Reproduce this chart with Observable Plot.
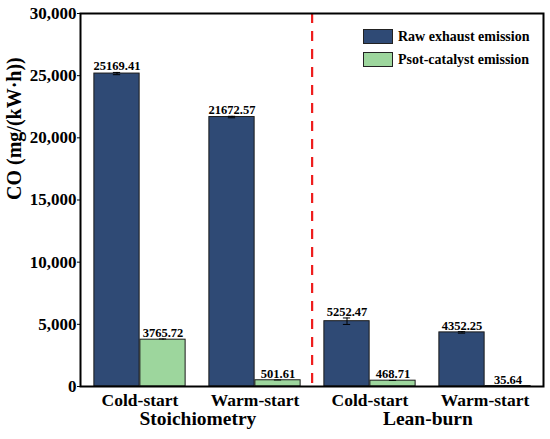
<!DOCTYPE html>
<html>
<head>
<meta charset="utf-8">
<script src="https://cdn.jsdelivr.net/npm/d3@7"></script>
<script src="https://cdn.jsdelivr.net/npm/@observablehq/plot@0.6"></script>
<style>
  html, body { margin: 0; padding: 0; background: #fff; }
  #wrap { position: relative; width: 550px; height: 439px; font-family: "Liberation Serif", Tinos, "Times New Roman", Times, "DejaVu Serif", serif; }
  #wrap svg, #wrap svg text { font-family: "Liberation Serif", Tinos, "Times New Roman", Times, "DejaVu Serif", serif !important; font-weight: bold; }
  .legend { position: absolute; left: 363px; top: 29px; font-size: 14px; font-weight: bold; color: #000; }
  .row { display: flex; align-items: center; height: 15px; margin-bottom: 8px; }
  .sw { width: 28px; height: 13px; border: 1px solid #222; margin-right: 5px; }
</style>
</head>
<body>
<div id="wrap"></div>
<script>
const conditions = ["Stoichiometry", "Lean-burn"];
const starts = ["Cold-start", "Warm-start"];
const series = ["Raw exhaust emission", "Psot-catalyst emission"];
const colors = ["#2f4a75", "#9dd69d"];
const rawValues = [25169.41, 21672.57, 5252.47, 4352.25];
const postValues = [3765.72, 501.61, 468.71, 35.64];
const rawErrors = [90, 60, 260, 60];
const postErrors = [60, 20, 25, 5];
const yTicks = [0, 5000, 10000, 15000, 20000, 25000, 30000];
const yLabel = "CO (mg/(kW·h))";

const groups = [];
conditions.forEach(c => starts.forEach(s => groups.push(c + "|" + s)));

const rows = [];
groups.forEach((g, i) => {
  rows.push({group: g, series: series[0], value: rawValues[i], err: rawErrors[i], side: -1});
  rows.push({group: g, series: series[1], value: postValues[i], err: postErrors[i], side: 1});
});
const rawRows = rows.filter(d => d.side < 0);
const postRows = rows.filter(d => d.side > 0);

const width = 550, height = 439;
const mL = 80, mR = 7, mT = 13, mB = 53;
const bw = (width - mL - mR) / groups.length;
const barW = 46;
const outer = bw / 2 - barW;
const off = barW / 2;
const capHalf = 4;

const font = "'Liberation Serif', Tinos, 'Times New Roman', Times, 'DejaVu Serif', serif";
const barStyle = {stroke: "#1a1a1a", strokeWidth: 1};

const plot = Plot.plot({
  width, height,
  marginLeft: mL, marginRight: mR, marginTop: mT, marginBottom: mB,
  style: {fontFamily: font, background: "#fff", color: "#000", overflow: "visible"},
  x: {domain: groups, padding: 0, label: null},
  y: {domain: [0, 30000], label: null},
  marks: [
    Plot.barY(rawRows, {x: "group", y: "value", fill: colors[0], insetLeft: outer, insetRight: bw - outer - barW, ...barStyle}),
    Plot.barY(postRows, {x: "group", y: "value", fill: colors[1], insetLeft: bw - outer - barW, insetRight: outer, ...barStyle}),
    // error bars
    Plot.ruleX(rawRows, {x: "group", y1: d => d.value - d.err, y2: d => d.value + d.err, dx: -off, stroke: "#000", strokeWidth: 1}),
    Plot.ruleX(postRows, {x: "group", y1: d => d.value - d.err, y2: d => d.value + d.err, dx: off, stroke: "#000", strokeWidth: 1}),
    Plot.tickY(rawRows, {x: "group", y: d => d.value + d.err, dx: -off, insetLeft: bw/2 - capHalf, insetRight: bw/2 - capHalf, stroke: "#000", strokeWidth: 1}),
    Plot.tickY(rawRows, {x: "group", y: d => d.value - d.err, dx: -off, insetLeft: bw/2 - capHalf, insetRight: bw/2 - capHalf, stroke: "#000", strokeWidth: 1}),
    Plot.tickY(postRows, {x: "group", y: d => d.value + d.err, dx: off, insetLeft: bw/2 - capHalf, insetRight: bw/2 - capHalf, stroke: "#000", strokeWidth: 1}),
    // value labels
    Plot.text(rawRows, {x: "group", y: d => d.value + d.err, text: d => d.value.toFixed(2), dx: -off, dy: -2, lineAnchor: "bottom", fontSize: 12.5, fontWeight: "bold", fill: "#000"}),
    Plot.text(postRows, {x: "group", y: d => d.value + d.err, text: d => d.value.toFixed(2), dx: off, dy: -2, lineAnchor: "bottom", fontSize: 12.5, fontWeight: "bold", fill: "#000"}),
    // separator
    Plot.ruleX([groups[2]], {dx: -bw / 2, stroke: "#ee1c1c", strokeWidth: 2.2, strokeDasharray: "10,8"}),
    // axes
    Plot.axisY({ticks: yTicks, tickFormat: d3.format(","), tickSize: 3, tickPadding: 1, fontSize: 17, fontWeight: "bold", label: null}),
    Plot.axisX({tickSize: 0, tickPadding: 7, tickFormat: d => d.split("|")[1], fontSize: 17.5, fontWeight: "bold", label: null}),
    Plot.text(conditions, {x: c => c + "|" + starts[0], frameAnchor: "bottom", dx: bw / 2, dy: 38, text: d => d, fontSize: 19.5, fontWeight: "bold", fill: "#000"}),
    Plot.text([yLabel], {frameAnchor: "left", rotate: -90, dx: -66, text: d => d, fontSize: 20, fontWeight: "bold", fill: "#000"}),
    Plot.frame({stroke: "#000", strokeWidth: 2})
  ]
});

const wrap = document.getElementById("wrap");
wrap.appendChild(plot);
const legend = document.createElement("div");
legend.className = "legend";
series.forEach((s, i) => {
  const r = document.createElement("div");
  r.className = "row";
  const sw = document.createElement("div");
  sw.className = "sw";
  sw.style.background = colors[i];
  const t = document.createElement("span");
  t.textContent = s;
  r.appendChild(sw); r.appendChild(t);
  legend.appendChild(r);
});
wrap.appendChild(legend);
</script>
</body>
</html>
